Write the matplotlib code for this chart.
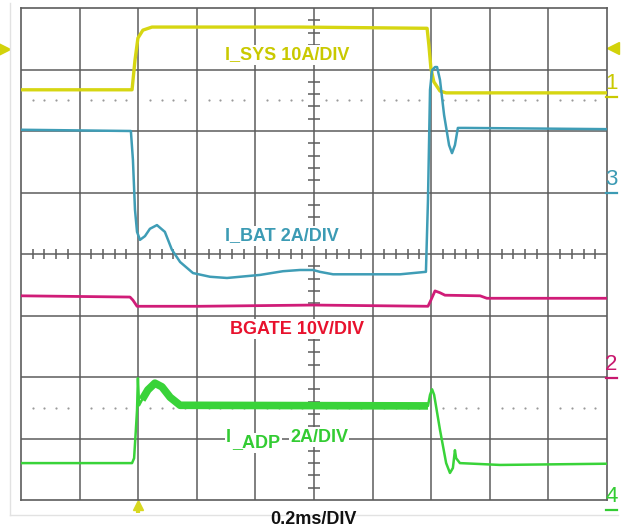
import matplotlib.pyplot as plt
import numpy as np

plt.rcParams["font.family"] = ["Liberation Sans", "DejaVu Sans"]

FIG_W, FIG_H = 624, 529
GRID_COLOR = "#5c5c5c"
DOT_COLOR = "#9a9a9a"

# scope screen: time in ms (0.2 ms/DIV x 10), level in DIV from the bottom (8 DIV)
ISYS_T = [0.0, 0.379, 0.389, 0.399, 0.416, 0.447, 0.95, 1.386, 1.392, 1.399, 1.409, 1.430, 1.451, 2.0]
ISYS_V = [6.67, 6.67, 7.15, 7.51, 7.64, 7.69, 7.69, 7.67, 7.40, 7.02, 6.80, 6.65, 6.62, 6.62]

IBAT_T = [0.0, 0.375, 0.382, 0.389, 0.396, 0.406, 0.423, 0.440, 0.464, 0.491, 0.515, 0.543,
          0.587, 0.645, 0.703, 0.816, 0.894, 0.952, 0.997, 1.020, 1.065, 1.294, 1.382, 1.389,
          1.396, 1.403, 1.413, 1.420, 1.430, 1.444, 1.461, 1.471, 1.481, 1.491, 1.515, 2.0]
IBAT_V = [6.02, 6.00, 5.53, 4.72, 4.36, 4.23, 4.29, 4.41, 4.47, 4.36, 4.07, 3.87,
          3.69, 3.63, 3.61, 3.66, 3.72, 3.74, 3.74, 3.71, 3.67, 3.67, 3.71, 4.88,
          6.67, 6.99, 7.04, 7.04, 6.83, 6.26, 5.77, 5.64, 5.77, 6.05, 6.05, 6.03]

BGATE_T = [0.0, 0.372, 0.382, 0.396, 0.611, 0.997, 1.389, 1.399, 1.413, 1.430, 1.447, 1.567, 1.590, 2.0]
BGATE_V = [3.32, 3.30, 3.25, 3.15, 3.15, 3.17, 3.15, 3.25, 3.40, 3.37, 3.33, 3.32, 3.28, 3.28]

IADP_T = [0.0, 0.379, 0.386, 0.392, 0.396, 0.399, 0.403, 0.413, 0.433, 0.457, 0.481, 0.509,
          0.543, 1.389, 1.396, 1.403, 1.410, 1.430, 1.451, 1.464, 1.474, 1.481, 1.485, 1.498,
          1.635, 2.0]
IADP_V = [0.60, 0.60, 0.68, 1.14, 1.46, 1.98, 1.54, 1.63, 1.79, 1.90, 1.84, 1.67,
          1.54, 1.53, 1.71, 1.80, 1.71, 1.14, 0.60, 0.44, 0.52, 0.81, 0.68, 0.60,
          0.57, 0.59]

TRACE_COLORS = {"isys": "#d6d612", "ibat": "#3f9db6", "bgate": "#d01c78", "iadp": "#39d339"}
LABEL_COLORS = {"isys": "#c9c900", "ibat": "#3c9bb4", "bgate": "#e8112d", "iadp": "#33cc33"}

CHANNEL_MARKS = ["1", "3", "2", "4"]
CHANNEL_LEVELS = [6.55, 4.99, 1.98, -0.16]
CHANNEL_COLORS = ["#c9c900", "#3c9bb4", "#c8186e", "#33cc33"]


def px_to_t(x):
    return (x - 21) / 293.0


def px_to_v(y):
    return (500 - y) / 61.5


fig = plt.figure(figsize=(FIG_W / 100, FIG_H / 100), dpi=100)
ax = fig.add_axes([21 / FIG_W, 29 / FIG_H, 586 / FIG_W, 492 / FIG_H])
ax.set_xlim(0, 2.0)
ax.set_ylim(0, 8)
ax.set_xticks([])
ax.set_yticks([])
for sp in ax.spines.values():
    sp.set_color(GRID_COLOR)
    sp.set_linewidth(1.2)

# light outer border of the screenshot
fig.add_artist(plt.Line2D([10 / FIG_W, 10 / FIG_W], [1 - 3 / FIG_H, 1 - 515 / FIG_H],
                          color="#e2e2e2", lw=1.0))
fig.add_artist(plt.Line2D([10 / FIG_W, 618 / FIG_W], [1 - 515 / FIG_H, 1 - 515 / FIG_H],
                          color="#e2e2e2", lw=1.0))

# graticule
for xv in np.arange(0.2, 2.0, 0.2):
    ax.axvline(xv, color=GRID_COLOR, lw=1.1, zorder=1)
for yv in range(1, 8):
    ax.axhline(yv, color=GRID_COLOR, lw=1.1, zorder=1)

# centre axis minor ticks
minor_x = [x for x in np.arange(0.04, 2.0, 0.04) if abs(x / 0.2 - round(x / 0.2)) > 1e-6]
minor_y = [y for y in np.arange(0.2, 8.0, 0.2) if abs(y - round(y)) > 1e-6]
ax.vlines(minor_x, 4 - 0.08, 4 + 0.08, color=GRID_COLOR, lw=1.1, zorder=1)
ax.hlines(minor_y, 1.0 - 0.02, 1.0 + 0.02, color=GRID_COLOR, lw=1.1, zorder=1)

# dotted reference rows
for yv in (6.5, 1.5):
    ax.scatter(minor_x, [yv] * len(minor_x), s=2.5, color=DOT_COLOR, lw=0, zorder=1)

# traces
ax.plot(ISYS_T, ISYS_V, color=TRACE_COLORS["isys"], lw=2.4, zorder=3, solid_joinstyle="round")
ax.plot(IBAT_T, IBAT_V, color=TRACE_COLORS["ibat"], lw=1.8, zorder=3, solid_joinstyle="round")
ax.plot(BGATE_T, BGATE_V, color=TRACE_COLORS["bgate"], lw=2.0, zorder=3, solid_joinstyle="round")
ax.plot(IADP_T, IADP_V, color=TRACE_COLORS["iadp"], lw=1.8, zorder=3, solid_joinstyle="round")
iadp_t = np.array(IADP_T)
iadp_v = np.array(IADP_V)
band = (iadp_t >= 0.413) & (iadp_t <= 1.389)
ax.plot(iadp_t[band], iadp_v[band], color=TRACE_COLORS["iadp"], lw=5.5, zorder=3,
        solid_joinstyle="round", solid_capstyle="butt")

# trace labels
box = dict(facecolor="white", edgecolor="none", pad=1.0)
lab_kw = dict(fontsize=13, fontweight="bold", va="center", ha="left", zorder=6, bbox=box)
ax.text(px_to_t(225), px_to_v(55), "I_SYS 10A/DIV", color=LABEL_COLORS["isys"], **lab_kw)
ax.text(px_to_t(225), px_to_v(236), "I_BAT 2A/DIV", color=LABEL_COLORS["ibat"], **lab_kw)
ax.text(px_to_t(230), px_to_v(329), "BGATE 10V/DIV", color=LABEL_COLORS["bgate"], **lab_kw)
ax.text(px_to_t(226), px_to_v(437), "I", color=LABEL_COLORS["iadp"], **lab_kw)
ax.text(px_to_t(232), px_to_v(443), "_ADP", color=LABEL_COLORS["iadp"], **lab_kw)
ax.text(px_to_t(290), px_to_v(437), "2A/DIV", color=LABEL_COLORS["iadp"], **lab_kw)

# channel reference marks on the right edge
for mark, lvl, col in zip(CHANNEL_MARKS, CHANNEL_LEVELS, CHANNEL_COLORS):
    ax.plot([px_to_t(606), px_to_t(617)], [lvl, lvl], color=col, lw=1.6, clip_on=False, zorder=4)
    ax.text(px_to_t(611.5), lvl + 0.05, mark, color=col, fontsize=16, ha="center", va="bottom",
            family=["Liberation Sans Narrow", "Liberation Sans", "DejaVu Sans"],
            clip_on=False, zorder=4)

# trigger level arrows and trigger position arrow
ax.plot([px_to_t(4)], [px_to_v(49)], marker=">", ms=8, color="#d2d20a", lw=0, clip_on=False)
ax.plot([px_to_t(613)], [px_to_v(48)], marker="<", ms=8, color="#d2d20a", lw=0, clip_on=False)
ax.plot([px_to_t(138), px_to_t(138)], [px_to_v(506), px_to_v(513)], color="#d8d820", lw=3,
        clip_on=False, solid_capstyle="butt")
ax.plot([px_to_t(138)], [px_to_v(505)], marker="^", ms=7, color="#d8d820", lw=0, clip_on=False)

fig.text(313 / FIG_W, 1 - 520 / FIG_H, "0.2ms/DIV", fontsize=13, fontweight="bold",
         ha="center", va="center", color="#111111")

fig.savefig("out.png", dpi=100)
